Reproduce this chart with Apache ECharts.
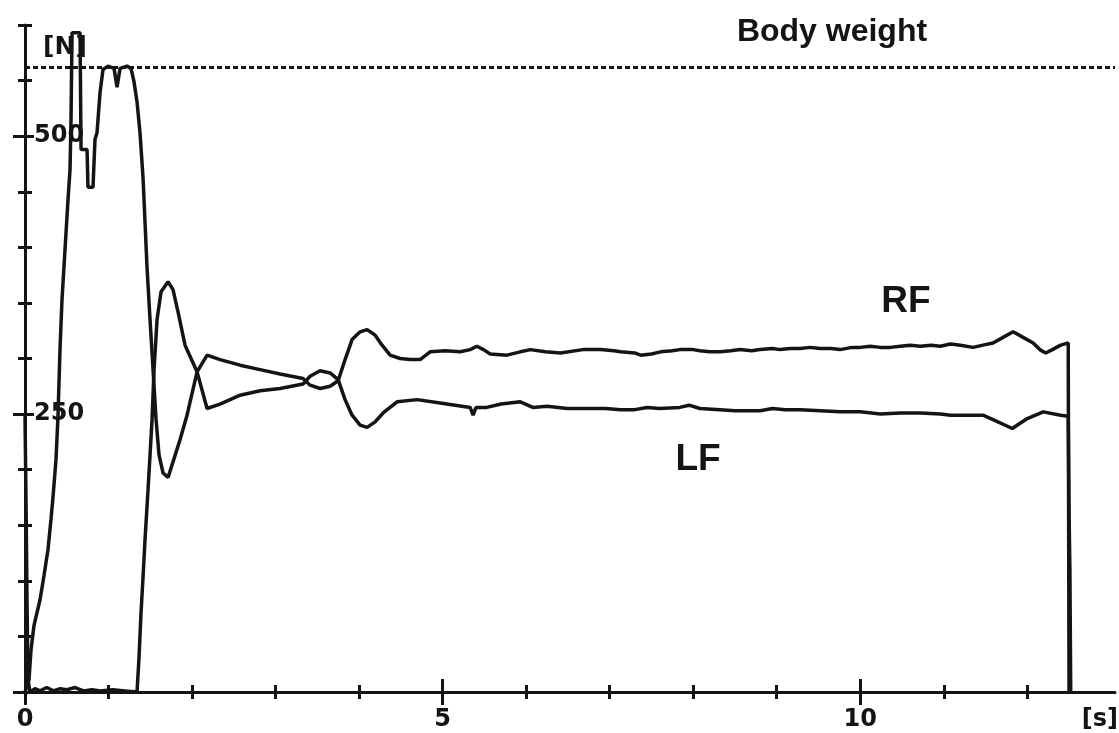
<!DOCTYPE html>
<html>
<head>
<meta charset="utf-8">
<script src="https://cdn.jsdelivr.net/npm/echarts@6/dist/echarts.min.js"></script>
<style>
  html, body { margin: 0; padding: 0; background: #ffffff; }
  #chart { width: 1119px; height: 733px; }
</style>
</head>
<body>
<div id="chart"></div>
<script>
// Vertical ground reaction force under each foot while stepping onto the plate.
// Time in seconds, force in newtons.

const rfTime = [
  0, 0.048, 0.072, 0.108, 0.18, 0.228, 0.275, 0.311, 0.335, 0.371, 0.395, 0.419, 0.443, 0.479,
  0.515, 0.539, 0.551, 0.563, 0.659, 0.671, 0.743, 0.754, 0.814, 0.838, 0.862, 0.898, 0.934,
  0.994, 1.066, 1.102, 1.138, 1.222, 1.269, 1.305, 1.341, 1.377, 1.413, 1.461, 1.497, 1.533,
  1.569, 1.605, 1.653, 1.713, 1.772, 1.856, 1.94, 2.06, 2.18, 2.335, 2.575, 2.814, 3.054,
  3.329, 3.413, 3.533, 3.653, 3.749, 3.832, 3.916, 4.012, 4.096, 4.192, 4.275, 4.371, 4.491,
  4.61, 4.73, 4.85, 5.03, 5.21, 5.33, 5.41, 5.49, 5.57, 5.77, 5.93, 6.05, 6.23, 6.41, 6.68,
  6.89, 7.05, 7.13, 7.3, 7.37, 7.5, 7.61, 7.75, 7.84, 8.0, 8.08, 8.2, 8.32, 8.45, 8.56, 8.7,
  8.8, 8.95, 9.04, 9.16, 9.28, 9.4, 9.52, 9.65, 9.76, 9.9, 10.0, 10.12, 10.24, 10.36, 10.48,
  10.6, 10.72, 10.85, 10.96, 11.08, 11.2, 11.35, 11.47, 11.59, 11.71, 11.83, 11.95, 12.07,
  12.15, 12.22, 12.3, 12.4, 12.49, 12.5
];
const rfForce = [
  0, 11, 38, 60, 83, 105, 128, 155, 175, 209, 248, 308, 353, 398,
  443, 470, 515, 593, 593, 488, 488, 454, 454, 497, 503, 539, 560,
  563, 561, 544, 561, 563, 561, 549, 531, 503, 463, 382, 335, 290,
  245, 213, 197, 193, 207, 227, 249, 288, 303, 299, 294, 290, 286,
  282, 276, 273, 275, 280, 299, 317, 324, 326, 321, 312, 303, 300,
  299, 299, 306, 307, 306, 308, 311, 308, 304, 303, 306, 308, 306, 305, 308,
  308, 307, 306, 305, 303, 304, 306, 307, 308, 308, 307, 306, 306, 307, 308, 307,
  308, 309, 308, 309, 309, 310, 309, 309, 308, 310, 310, 311, 310, 310, 311,
  312, 311, 312, 311, 313, 312, 310, 312, 314, 319, 324, 319, 314,
  308, 305, 308, 312, 314, 0
];

const lfTime = [
  0, 0.012, 0.024, 0.036, 0.06, 0.12, 0.18, 0.26, 0.34, 0.42, 0.5, 0.6, 0.7, 0.8, 0.9, 1.05,
  1.2, 1.341, 1.365, 1.389, 1.413, 1.437, 1.473, 1.497, 1.521, 1.545, 1.581, 1.629, 1.713,
  1.772, 1.832, 1.916, 2.06, 2.18, 2.335, 2.575, 2.814, 3.054, 3.329, 3.413, 3.533, 3.653,
  3.749, 3.832, 3.916, 4.012, 4.096, 4.192, 4.287, 4.455, 4.695, 4.97, 5.15, 5.33, 5.365,
  5.4, 5.53, 5.7, 5.93, 6.08, 6.25, 6.49, 6.8, 6.95, 7.13, 7.3, 7.45, 7.6, 7.84, 7.95, 8.08,
  8.32, 8.5, 8.8, 8.95, 9.1, 9.28, 9.52, 9.76, 10.0, 10.24, 10.48, 10.72, 10.96, 11.08,
  11.47, 11.59, 11.82, 12.0, 12.19, 12.4, 12.49, 12.5, 12.51, 12.52
];
const lfForce = [
  248, 173, 83, 11, 0, 3, 1, 4, 1, 3, 2, 4, 1, 2, 1, 2,
  1, 0, 31, 71, 103, 137, 182, 213, 245, 290, 335, 360, 369,
  362, 342, 312, 288, 255, 259, 267, 271, 273, 277, 284, 289, 287,
  281, 263, 249, 240, 238, 243, 251, 261, 263, 260, 258, 256, 249,
  256, 256, 259, 261, 256, 257, 255, 255, 255, 254, 254, 256, 255, 256, 258, 255,
  254, 253, 253, 255, 254, 254, 253, 252, 252, 250, 251, 251, 250, 249,
  249, 245, 237, 246, 252, 249, 248, 160, 110, 0
];

const bodyWeight = 562;

// Axis ticks and labels
const secondTicks = [0, 1, 2, 3, 4, 5, 6, 7, 8, 9, 10, 11, 12];
const secondMajor = [0, 5, 10];
const secondLabels = [0, 5, 10, 12.87];
const newtonTicks = [0, 50, 100, 150, 200, 250, 300, 350, 400, 450, 500, 550, 600];
const newtonMajor = [0, 250, 500];
const newtonLabels = [250, 500];

const tMax = 13.05;
const fMax = 600;
const ink = '#141414';

function pairs(t, v) {
  return t.map((x, i) => [x, v[i]]);
}

// One layer of ticks; stacking several layers gives ticks crossing the axis line
function tickLayer(kind, values, length, inside, interval) {
  return {
    type: 'value',
    min: 0,
    max: kind === 'x' ? tMax : fMax,
    interval: interval,
    position: kind === 'x' ? 'bottom' : 'left',
    splitLine: { show: false },
    axisLine: { show: false, onZero: false },
    axisTick: { show: true, inside: inside, length: length, customValues: values,
                lineStyle: { color: ink, width: 3 } },
    axisLabel: { show: false }
  };
}

const labelFont = { fontFamily: 'DejaVu Sans', fontWeight: 'bold', fontSize: 24, color: ink };

const xMain = tickLayer('x', secondTicks, 7, false, 1);
xMain.axisLine = { show: true, onZero: false, lineStyle: { color: ink, width: 3 } };
xMain.axisLabel = Object.assign({
  show: true, customValues: secondLabels, margin: 16, hideOverlap: false,
  showMinLabel: true, showMaxLabel: true,
  formatter: v => (v > 12 ? '[s]' : String(v))
}, labelFont);

const yMain = tickLayer('y', newtonTicks, 7, false, 50);
yMain.axisLine = { show: true, onZero: false, lineStyle: { color: ink, width: 3 } };
yMain.axisLabel = Object.assign({
  show: true, inside: true, customValues: newtonLabels, margin: 9, hideOverlap: false,
  formatter: v => String(v)
}, labelFont);

const chart = echarts.init(document.getElementById('chart'), null, { renderer: 'canvas' });

chart.setOption({
  animation: false,
  backgroundColor: '#ffffff',
  grid: { left: 25, right: 4, top: 25, bottom: 41, containLabel: false, outerBoundsMode: 'none' },
  xAxis: [
    xMain,
    tickLayer('x', secondTicks, 7, true, 1),
    tickLayer('x', secondMajor, 13, false, 5),
    tickLayer('x', secondMajor, 13, true, 5)
  ],
  yAxis: [
    yMain,
    tickLayer('y', newtonTicks, 7, true, 50),
    tickLayer('y', newtonMajor, 12, false, 250),
    tickLayer('y', newtonMajor, 9, true, 250)
  ],
  series: [
    {
      name: 'RF',
      type: 'line',
      xAxisIndex: 0,
      yAxisIndex: 0,
      data: pairs(rfTime, rfForce),
      showSymbol: false,
      symbol: 'none',
      lineStyle: { color: ink, width: 3.5 },
      silent: true,
      markLine: {
        silent: true,
        symbol: 'none',
        label: { show: false },
        lineStyle: { color: ink, width: 3, type: [5, 3] },
        data: [{ yAxis: bodyWeight }]
      }
    },
    {
      name: 'LF',
      type: 'line',
      xAxisIndex: 0,
      yAxisIndex: 0,
      data: pairs(lfTime, lfForce),
      showSymbol: false,
      symbol: 'none',
      lineStyle: { color: ink, width: 3.5 },
      silent: true
    }
  ],
  graphic: [
    { type: 'text', x: 832, y: 32, style: { text: 'Body weight', fill: ink,
      fontFamily: 'Liberation Sans', fontWeight: 'bold', fontSize: 32, align: 'center', verticalAlign: 'middle' } },
    { type: 'text', x: 906, y: 302, style: { text: 'RF', fill: ink,
      fontFamily: 'Liberation Sans', fontWeight: 'bold', fontSize: 37, align: 'center', verticalAlign: 'middle' } },
    { type: 'text', x: 698, y: 460, style: { text: 'LF', fill: ink,
      fontFamily: 'Liberation Sans', fontWeight: 'bold', fontSize: 37, align: 'center', verticalAlign: 'middle' } },
    { type: 'text', x: 65, y: 47, style: { text: '[N]', fill: ink,
      fontFamily: 'DejaVu Sans', fontWeight: 'bold', fontSize: 25, align: 'center', verticalAlign: 'middle' } }
  ]
});
</script>
</body>
</html>
